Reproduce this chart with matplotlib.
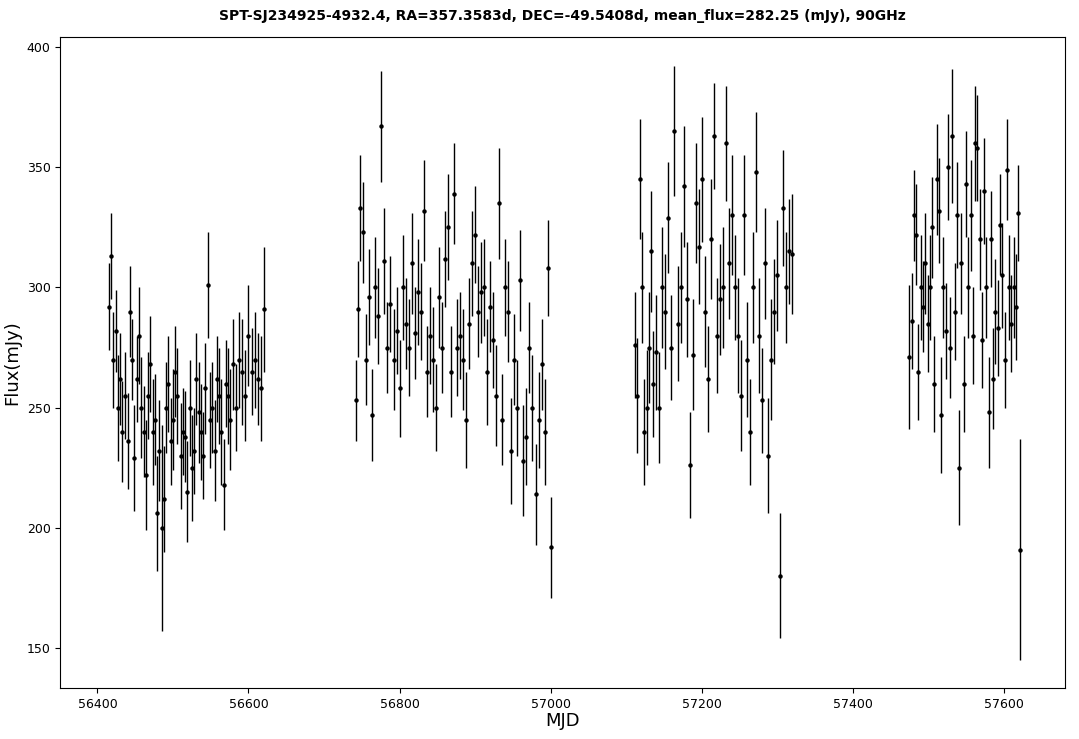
import matplotlib
matplotlib.use("Agg")
import matplotlib.pyplot as plt
import numpy as np

# season 1
mjd1 = [56415,56418,56421,56424,56427,56430,56433,56436,56440,56443,56446,56449,56452,56455,56458,56461,
        56464,56467,56470,56473,56476,56479,56482,56485,56488,56491,56494,56497,56500,56503,56506,56510,
        56513,56516,56519,56522,56525,56528,56531,56534,56537,56540,56543,56546,56549,56552,56555,56558,
        56561,56564,56567,56570,56573,56576,56580,56584,56588,56592,56596,56600,56604,56608,56612,56616,56620]
flux1 = [292,313,270,282,250,262,240,255,236,290,270,229,262,280,250,240,222,255,268,240,245,206,232,200,
         212,250,260,236,245,265,255,230,240,238,215,250,225,232,262,248,240,230,258,301,245,250,232,262,
         255,240,218,260,255,245,268,250,270,265,255,280,265,270,262,258,291]
err1 = [18,18,20,17,22,19,21,18,20,19,17,22,18,20,21,19,23,18,20,22,19,24,21,43,22,19,20,18,21,19,20,
        22,18,19,21,20,22,18,19,21,20,18,19,22,20,19,21,18,20,22,19,18,20,21,19,18,20,22,19,21,18,20,19,22,26]

# season 2
mjd2 = [56742,56745,56748,56752,56756,56760,56764,56768,56772,56776,56780,56784,56788,56792,56796,56800,
        56804,56808,56812,56816,56820,56824,56828,56832,56836,56840,56844,56848,56852,56856,56860,56864,
        56868,56872,56876,56880,56884,56888,56892,56896,56900,56904,56908,56912,56916,56920,56924,56928,
        56932,56936,56940,56944,56948,56952,56956,56960,56964,56968,56972,56976,56980,56984,56988,56992,56996,57000]
flux2 = [253,291,333,323,270,296,247,300,288,367,311,275,293,270,282,258,300,285,275,310,281,298,290,332,
         265,280,270,250,296,275,312,325,265,339,275,280,270,245,285,310,322,290,298,300,265,292,278,255,
         335,245,300,290,232,270,250,303,228,238,275,250,214,245,268,240,308,192]
err2 = [17,20,22,21,19,20,19,21,20,23,22,19,20,21,18,20,22,19,20,21,19,22,20,21,19,20,22,18,21,19,20,
        22,19,21,20,18,21,20,19,22,20,19,21,20,22,19,20,21,23,19,20,21,22,19,20,21,23,20,19,22,21,20,19,22,20,21]

# season 3
mjd3 = [57112,57115,57118,57121,57124,57127,57130,57133,57136,57140,57144,57148,57152,57156,57160,57164,
        57168,57172,57176,57180,57184,57188,57192,57196,57200,57204,57208,57212,57216,57220,57224,57228,
        57232,57236,57240,57244,57248,57252,57256,57260,57264,57268,57272,57276,57280,57284,57288,57292,
        57296,57300,57304,57308,57312,57316,57320]
flux3 = [276,255,345,300,240,250,275,315,260,273,250,300,290,329,275,365,285,300,342,295,226,272,335,317,
         345,290,262,320,363,280,295,300,360,310,330,300,280,255,330,270,240,300,348,280,253,310,230,270,
         290,305,180,333,300,315,314]
err3 = [22,24,25,23,22,24,23,25,22,24,23,25,24,23,22,27,24,23,25,24,22,23,25,24,26,23,22,25,22,24,23,
        25,24,23,25,22,24,23,25,24,22,23,25,24,22,23,24,25,22,23,26,24,23,22,25]

# season 4
mjd4 = [57475,57478,57481,57484,57487,57490,57493,57496,57499,57502,57505,57508,57511,57514,57517,57520,
        57523,57526,57529,57532,57535,57538,57541,57544,57547,57550,57553,57556,57559,57562,57565,57568,
        57571,57574,57577,57580,57583,57586,57589,57592,57595,57598,57601,57604,57607,57610,57613,57616,57619,57622]
flux4 = [271,286,330,322,265,300,292,310,285,300,325,260,345,332,247,300,282,350,275,363,290,330,225,310,
         260,343,300,330,280,360,358,320,278,340,300,248,320,262,290,283,326,305,270,349,300,285,300,292,331,191]
err4 = [30,20,19,21,20,22,19,21,20,22,21,20,23,22,24,21,20,22,21,28,20,22,24,21,20,22,21,23,20,24,22,
        21,20,22,21,23,20,21,22,20,21,22,20,21,22,20,21,22,20,46]

mjd = np.array(mjd1 + mjd2 + mjd3 + mjd4)
flux = np.array(flux1 + flux2 + flux3 + flux4)
err = np.array(err1 + err2 + err3 + err4)

fig, ax = plt.subplots(figsize=(10.79, 7.39), dpi=100)
fig.subplots_adjust(left=0.056, right=0.987, top=0.95, bottom=0.069)

ax.errorbar(mjd, flux, yerr=err, fmt="o", color="black", ecolor="black",
            markersize=2.2, elinewidth=1.0, capsize=0)

ax.set_xlim(56351, 57681)
ax.set_ylim(133.4, 404.2)
ax.set_xticks([56400, 56600, 56800, 57000, 57200, 57400, 57600])
ax.set_yticks([150, 200, 250, 300, 350, 400])
ax.tick_params(labelsize=9)
ax.set_xlabel("MJD", fontsize=13, labelpad=1)
ax.set_ylabel("Flux(mJy)", fontsize=13)
ax.set_title("SPT-SJ234925-4932.4, RA=357.3583d, DEC=-49.5408d, mean_flux=282.25 (mJy), 90GHz",
             fontsize=10, fontweight="bold", pad=12)

fig.savefig("out.png", dpi=100)
